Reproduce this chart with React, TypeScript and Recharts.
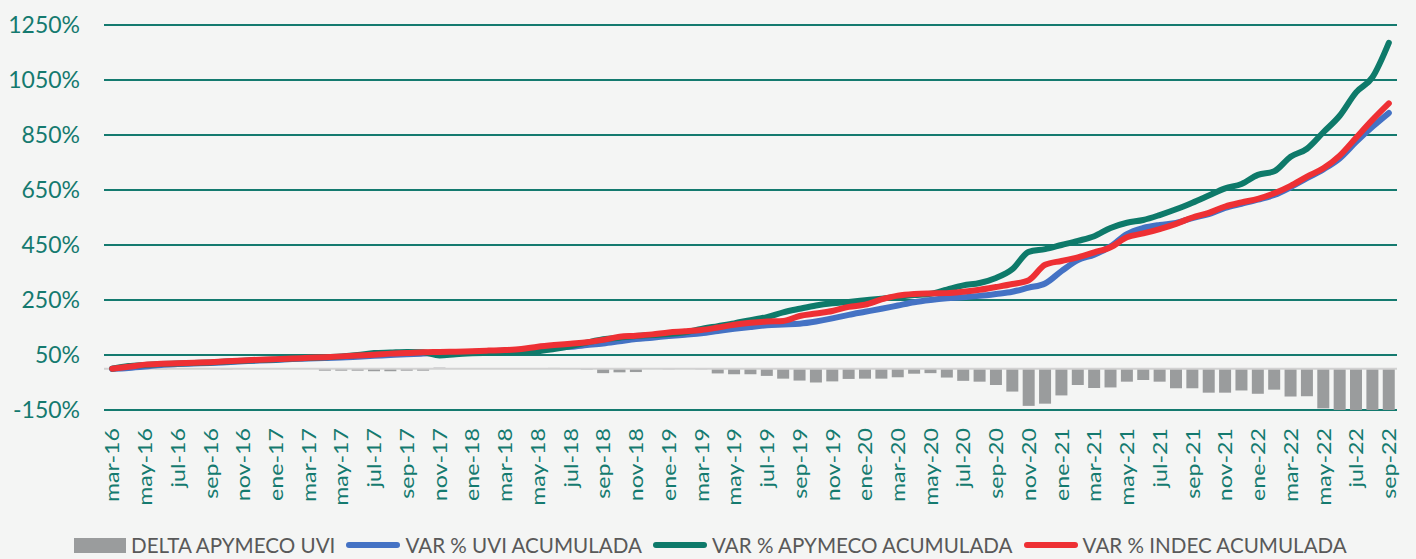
import React from 'react';
import { ComposedChart, Bar, Line, XAxis, YAxis, CartesianGrid, ReferenceLine } from 'recharts';

const months = [
  'mar-16','abr-16','may-16','jun-16','jul-16','ago-16','sep-16','oct-16','nov-16','dic-16',
  'ene-17','feb-17','mar-17','abr-17','may-17','jun-17','jul-17','ago-17','sep-17','oct-17','nov-17','dic-17',
  'ene-18','feb-18','mar-18','abr-18','may-18','jun-18','jul-18','ago-18','sep-18','oct-18','nov-18','dic-18',
  'ene-19','feb-19','mar-19','abr-19','may-19','jun-19','jul-19','ago-19','sep-19','oct-19','nov-19','dic-19',
  'ene-20','feb-20','mar-20','abr-20','may-20','jun-20','jul-20','ago-20','sep-20','oct-20','nov-20','dic-20',
  'ene-21','feb-21','mar-21','abr-21','may-21','jun-21','jul-21','ago-21','sep-21','oct-21','nov-21','dic-21',
  'ene-22','feb-22','mar-22','abr-22','may-22','jun-22','jul-22','ago-22','sep-22',
];

const deltaApymecoUvi = [
  0, -1, -2, -2, -1, -1, -1, -2, -1, -1,
  -1, -1, -1, -7, -7, -7, -9, -9, -7, -7, 4, 1,
  0, 0, 0, 0, 0, 3, 0, -3, -16, -13, -12, 0,
  -2, 0, -2, -17, -20, -20, -26, -36, -43, -50, -46, -37,
  -36, -36, -31, -18, -16, -32, -44, -47, -59, -83, -135, -127,
  -97, -59, -70, -68, -47, -41, -47, -71, -71, -87, -87, -79,
  -91, -76, -101, -100, -144, -158, -158, -158, -158,
];

const varUviAcumulada = [
  0, 3, 8, 14, 17, 19, 21, 24, 27, 30,
  32, 35, 37, 39, 41, 44, 47, 50, 53, 55, 57, 59,
  61, 63, 66, 69, 73, 77, 80, 86, 92, 100, 108, 113,
  119, 124, 129, 137, 145, 152, 158, 161, 164, 172, 183, 196,
  207, 218, 230, 242, 250, 256, 260, 265, 272, 280, 295, 310,
  355, 395, 415, 445, 490, 512, 523, 530, 548, 562, 585, 600,
  615, 632, 660, 693, 725, 765, 825, 880, 930,
];

const varApymecoAcumulada = [
  0, 10, 14, 17, 19, 21, 23, 26, 29, 32,
  34, 37, 39, 42, 45, 50, 57, 59, 61, 60, 48, 53,
  56, 58, 60, 62, 64, 72, 82, 95, 107, 113, 119, 123,
  126, 133, 145, 155, 165, 177, 188, 205, 218, 230, 238, 243,
  249, 255, 262, 268, 273, 288, 303, 312, 330, 362, 425, 435,
  450, 465, 482, 512, 531, 541, 559, 580, 604, 630, 656, 672,
  705, 718, 771, 800, 860, 920, 1005, 1060, 1185,
];

const varIndecAcumulada = [
  0, 7, 15, 18, 20, 22, 24, 27, 30, 33,
  35, 37, 40, 42, 45, 48, 51, 55, 57, 60, 61, 62,
  64, 66, 68, 72, 80, 86, 91, 96, 105, 116, 120, 125,
  132, 136, 141, 150, 160, 167, 172, 174, 192, 201, 210, 225,
  233, 252, 266, 272, 274, 275, 280, 287, 297, 308, 322, 378,
  392, 405, 423, 442, 478, 492, 508, 527, 550, 567, 590, 605,
  618, 638, 665, 699, 729, 775, 840, 905, 965,
];

const yTicks = [-150, 50, 250, 450, 650, 850, 1050, 1250];

const seriesNames = {
  delta: 'DELTA APYMECO UVI',
  uvi: 'VAR % UVI ACUMULADA',
  apymeco: 'VAR % APYMECO ACUMULADA',
  indec: 'VAR % INDEC ACUMULADA',
};

const data = months.map((m, i) => ({
  m,
  delta: deltaApymecoUvi[i],
  uvi: varUviAcumulada[i],
  apymeco: varApymecoAcumulada[i],
  indec: varIndecAcumulada[i],
}));

const TEAL = '#147a6f';
const GRAY_BAR = '#9a9c9d';
const BLUE = '#4472c4';
const GREEN = '#0e7a6a';
const RED = '#ee3034';
const FONT = 'Lato, "Open Sans", sans-serif';

const XTick = (props: any) => {
  const { x, y, payload } = props;
  return (
    <g transform={`translate(${x} ${y}) rotate(-90) scale(1.22 1)`}>
      <text
        x={0}
        y={0}
        textAnchor="end"
        dominantBaseline="central"
        fill={TEAL}
        fontSize={19}
        fontFamily={FONT}
      >
        {payload.value}
      </text>
    </g>
  );
};

const LegendItem = ({ kind, color, label }: { kind: 'bar' | 'line'; color: string; label: string }) => (
  <div style={{ display: 'flex', alignItems: 'center', marginRight: 11 }}>
    {kind === 'bar' ? (
      <div style={{ width: 52, height: 15, background: color, marginRight: 5 }} />
    ) : (
      <div style={{ width: 54, height: 6, borderRadius: 3, background: color, marginRight: 5 }} />
    )}
    <span style={{ color: '#595959', fontSize: 20.6, fontFamily: FONT, whiteSpace: 'nowrap' }}>{label}</span>
  </div>
);

export default function App() {
  return (
    <div style={{ position: 'absolute', top: 0, left: 0, width: 1416, height: 559, background: '#f4f5f4', overflow: 'hidden' }}>
      <ComposedChart
        width={1416}
        height={559}
        data={data}
        margin={{ top: 25, right: 19, left: 8, bottom: 59 }}
        barCategoryGap="13%"
      >
        <CartesianGrid horizontal vertical={false} stroke={TEAL} strokeWidth={2} />
        <XAxis
          dataKey="m"
          interval={1}
          tick={<XTick />}
          tickLine={false}
          axisLine={false}
          tickSize={0}
          tickMargin={18}
          height={90}
        />
        <YAxis
          type="number"
          domain={[-150, 1250]}
          ticks={yTicks}
          allowDataOverflow
          width={96}
          tickLine={false}
          axisLine={false}
          tickSize={0}
          tickMargin={24}
          tickFormatter={(v: number) => `${v}%`}
          tick={{ fill: TEAL, fontSize: 23, fontFamily: FONT }}
        />
        <Bar dataKey="delta" name={seriesNames.delta} fill={GRAY_BAR} isAnimationActive={false} />
        <ReferenceLine y={0} stroke="#d2d2d2" strokeWidth={2} />
        <Line type="monotone" dataKey="uvi" name={seriesNames.uvi} stroke={BLUE} strokeWidth={6} dot={false} isAnimationActive={false} strokeLinecap="round" />
        <Line type="monotone" dataKey="apymeco" name={seriesNames.apymeco} stroke={GREEN} strokeWidth={6} dot={false} isAnimationActive={false} strokeLinecap="round" />
        <Line type="monotone" dataKey="indec" name={seriesNames.indec} stroke={RED} strokeWidth={6} dot={false} isAnimationActive={false} strokeLinecap="round" />
      </ComposedChart>
      <div style={{ position: 'absolute', left: 74, top: 532, display: 'flex', alignItems: 'center', height: 26 }}>
        <LegendItem kind="bar" color={GRAY_BAR} label={seriesNames.delta} />
        <LegendItem kind="line" color={BLUE} label={seriesNames.uvi} />
        <LegendItem kind="line" color={GREEN} label={seriesNames.apymeco} />
        <LegendItem kind="line" color={RED} label={seriesNames.indec} />
      </div>
    </div>
  );
}
